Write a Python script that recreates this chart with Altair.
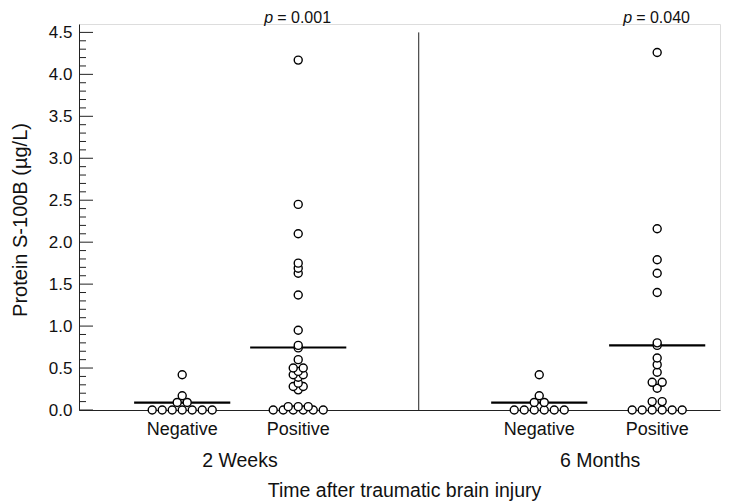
import altair as alt
import numpy as np
import pandas as pd

# ---------------- data ----------------
groups = ["Negative", "Positive", "Negative", "Positive"]
times = ["2 Weeks", "2 Weeks", "6 Months", "6 Months"]
time_labels = ["2 Weeks", "6 Months"]
p_values = ["0.001", "0.040"]

neg_2w = [0, 0, 0, 0, 0, 0, 0, 0.09, 0.09, 0.17, 0.42]
pos_2w = [0, 0, 0, 0, 0, 0, 0.04, 0.04, 0.04, 0.24, 0.28, 0.28, 0.32, 0.39,
          0.42, 0.42, 0.46, 0.50, 0.50, 0.60, 0.74, 0.77, 0.95, 1.37, 1.63,
          1.69, 1.75, 2.10, 2.45, 4.17]
neg_6m = [0, 0, 0, 0, 0, 0, 0.09, 0.09, 0.17, 0.42]
pos_6m = [0, 0, 0, 0, 0, 0, 0.10, 0.10, 0.26, 0.33, 0.33, 0.45, 0.54, 0.62,
          0.77, 0.80, 1.40, 1.63, 1.79, 2.16, 4.26]
series = [neg_2w, pos_2w, neg_6m, pos_6m]
group_means = [0.087, 0.745, 0.087, 0.77]

y_ticks_major = [0.0, 0.5, 1.0, 1.5, 2.0, 2.5, 3.0, 3.5, 4.0, 4.5]

# ---------------- layout ----------------
W, H = 641, 386
Y_MAX = 4.6
GROUP_POS = [0.161, 0.342, 0.718, 0.902]   # fraction of plot width
TIME_POS = [0.251, 0.813]
DIVIDER = 0.530
MEAN_HALF = 0.075
SPACING_PX = 10.0
FONT = "Liberation Sans"


def swarm(vals, spacing=SPACING_PX, tol=0.02):
    """Spread near-equal values horizontally, centred on the group."""
    vals = sorted(vals)
    offs = []
    i = 0
    while i < len(vals):
        j = i
        while j + 1 < len(vals) and vals[j + 1] - vals[i] <= tol + 1e-9:
            j += 1
        n = j - i + 1
        for k in range(n):
            offs.append((k - (n - 1) / 2) * spacing)
        i = j + 1
    return vals, offs


rows = []
for gi, vals in enumerate(series):
    sv, offs = swarm(vals)
    for v, o in zip(sv, offs):
        rows.append({"group": groups[gi], "time": times[gi],
                     "x": GROUP_POS[gi] + o / W, "value": v})
points = pd.DataFrame(rows)

means_df = pd.DataFrame({
    "group": groups, "time": times, "mean": group_means,
    "x": [p - MEAN_HALF for p in GROUP_POS],
    "x2": [p + MEAN_HALF for p in GROUP_POS],
})
cat_df = pd.DataFrame({"label": groups, "x": GROUP_POS})
time_df = pd.DataFrame({"label": time_labels, "x": TIME_POS})
p_df = pd.DataFrame({"p": ["p", "p"], "rest": ["= " + v for v in p_values],
                     "x": [GROUP_POS[1], GROUP_POS[3]]})

all_ticks = np.round(np.arange(0, 4.5001, 0.1), 1)
ticks_df = pd.DataFrame({"v": all_ticks,
                         "major": [bool(np.isclose(t * 2, round(t * 2))) for t in all_ticks]})

xs = alt.Scale(domain=[0, 1], nice=False, zero=False)
ys = alt.Scale(domain=[0, Y_MAX], nice=False, zero=True)

x_axis = alt.Axis(labels=False, ticks=False, title=None, grid=False,
                  domain=True, domainColor="#222", domainWidth=1)
y_axis = alt.Axis(values=y_ticks_major, format=".1f", ticks=False, grid=False,
                  domain=True, domainColor="#222", domainWidth=1, title=None,
                  labelFont=FONT, labelFontSize=17, labelColor="#111",
                  labelPadding=7)

base_x = alt.X("x:Q", scale=xs, axis=x_axis)

# y-axis ticks pointing inward
major_ticks = alt.Chart(ticks_df).transform_filter("datum.major").mark_rule(
    color="#222", strokeWidth=1).encode(
    y=alt.Y("v:Q", scale=ys, axis=y_axis), x=alt.value(0), x2=alt.value(14))
minor_ticks = alt.Chart(ticks_df).transform_filter("!datum.major").mark_rule(
    color="#222", strokeWidth=1).encode(
    y=alt.Y("v:Q", scale=ys), x=alt.value(0), x2=alt.value(7))

divider = alt.Chart(pd.DataFrame({"x": [DIVIDER]})).mark_rule(
    color="#222", strokeWidth=1).encode(
    x=base_x, y=alt.datum(0), y2=alt.datum(4.5))

mean_lines = alt.Chart(means_df).mark_rule(color="black", strokeWidth=2.2).encode(
    x=base_x, x2="x2:Q", y=alt.Y("mean:Q", scale=ys))

dots = alt.Chart(points).mark_point(
    shape="circle", size=64, filled=False, fill="white", fillOpacity=1,
    stroke="black", strokeWidth=1.4, opacity=1).encode(
    x=base_x, y=alt.Y("value:Q", scale=ys))

cat_text = alt.Chart(cat_df).mark_text(
    font=FONT, fontSize=18, color="#111", baseline="alphabetic").encode(
    x=base_x, y=alt.value(H + 25), text="label:N")

time_text = alt.Chart(time_df).mark_text(
    font=FONT, fontSize=19.5, color="#111", baseline="alphabetic").encode(
    x=base_x, y=alt.value(H + 57), text="label:N")

p_italic = alt.Chart(p_df).mark_text(
    font=FONT, fontSize=16, fontStyle="italic", color="#111",
    baseline="alphabetic", align="left", dx=-34).encode(
    x=base_x, y=alt.value(-1), text="p:N")
p_rest = alt.Chart(p_df).mark_text(
    font=FONT, fontSize=16, color="#111", baseline="alphabetic",
    align="left", dx=-21).encode(
    x=base_x, y=alt.value(-1), text="rest:N")

x_title = alt.Chart(pd.DataFrame({"t": ["Time after traumatic brain injury"]})).mark_text(
    font=FONT, fontSize=19.5, color="#111", baseline="alphabetic").encode(
    x=alt.value(W * 0.5 + 5), y=alt.value(H + 87), text="t:N")

y_title = alt.Chart(pd.DataFrame({"t": ["Protein S-100B (\u00b5g/L)"]})).mark_text(
    font=FONT, fontSize=20, color="#111", angle=270, baseline="middle",
    align="center").encode(
    x=alt.value(-58), y=alt.value(H / 2 + 3), text="t:N")

chart = alt.layer(
    major_ticks, minor_ticks, divider, mean_lines, dots,
    cat_text, time_text, p_italic, p_rest, x_title, y_title
).properties(
    width=W, height=H,
    autosize=alt.AutoSizeParams(type="none"),
    padding={"left": 71, "top": 16, "right": 7, "bottom": 92},
).configure_view(stroke=None).configure(background="white")

chart.save("out.html", embed_options={"renderer": "svg", "actions": False})
